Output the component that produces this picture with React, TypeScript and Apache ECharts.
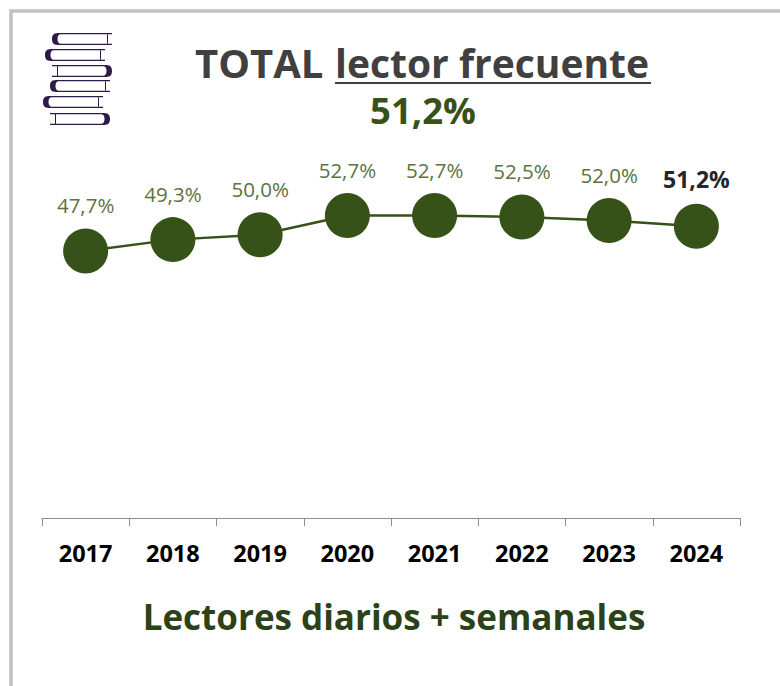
import React, { useEffect, useRef } from "react";
import * as echarts from "echarts";

const years = ["2017", "2018", "2019", "2020", "2021", "2022", "2023", "2024"];
const values = [47.7, 49.3, 50.0, 52.7, 52.7, 52.5, 52.0, 51.2];
const titleLead = "TOTAL";
const titleRest = "lector frecuente";
const headline = "51,2%";
const footer = "Lectores diarios + semanales";
const FONT = '"Open Sans", sans-serif';
const fmt = (v: number) => v.toFixed(1).replace(".", ",") + "%";

const book = (x: number, y: number, right: boolean) => {
  const w = 60, h = 12, t = 1.3, s = 5.5;
  if (!right) {
    return `M${x + w} ${y}H${x + 6}C${x + 1} ${y} ${x} ${y + 3} ${x} ${y + h / 2}C${x} ${y + h - 3} ${x + 1} ${y + h} ${x + 6} ${y + h}H${x + w}V${y + h - t}H${x + 8}C${x + 6} ${y + h - 2} ${x + s} ${y + h - 4} ${x + s} ${y + h / 2}C${x + s} ${y + 4} ${x + 6} ${y + 2} ${x + 8} ${y + t}H${x + w}Z` +
      `M${x + w - 5} ${y + 1}h1v${h - 2}h-1Z`;
  }
  return `M${x} ${y}H${x + w - 6}C${x + w - 1} ${y} ${x + w} ${y + 3} ${x + w} ${y + h / 2}C${x + w} ${y + h - 3} ${x + w - 1} ${y + h} ${x + w - 6} ${y + h}H${x}V${y + h - t}H${x + w - 8}C${x + w - 6} ${y + h - 2} ${x + w - s} ${y + h - 4} ${x + w - s} ${y + h / 2}C${x + w - s} ${y + 4} ${x + w - 6} ${y + 2} ${x + w - 8} ${y + t}H${x}Z` +
    `M${x + 5} ${y + 1}h1v${h - 2}h-1Z`;
};
const booksPath = [
  book(52, 33, false),
  book(45, 49, false),
  book(52, 65, true),
  book(50, 80, false),
  book(43, 96, false),
  book(50, 113, true),
].join("");
echarts.graphic.registerShape("booksIconPath", echarts.graphic.extendPath(booksPath, {}) as any);

export default function App() {
  const ref = useRef<HTMLDivElement>(null);
  useEffect(() => {
    const chart = echarts.init(ref.current!, undefined, { renderer: "svg" });
    chart.setOption({
      animation: false,
      backgroundColor: "#ffffff",
      grid: { left: 42, right: 40, top: 93, bottom: 168 },
      xAxis: {
        type: "category",
        data: years,
        boundaryGap: true,
        axisLine: { lineStyle: { color: "#8C8C8C", width: 1 } },
        axisTick: { show: true, length: 8, alignWithLabel: false, lineStyle: { color: "#8C8C8C" } },
        axisLabel: { color: "#000000", fontFamily: FONT, fontWeight: "bold", fontSize: 23.5, margin: 23 },
      },
      yAxis: { type: "value", min: 10, max: 70, show: false, splitLine: { show: false } },
      series: [
        {
          type: "line",
          data: values.map((v, i) =>
            i === values.length - 1
              ? { value: v, label: { color: "#262626", fontWeight: "bold", fontSize: 23 } }
              : v
          ),
          symbol: "circle",
          symbolSize: 45,
          showAllSymbol: true,
          lineStyle: { color: "#375218", width: 2.5 },
          itemStyle: { color: "#375218" },
          label: {
            show: true,
            position: "top",
            distance: 13,
            color: "#5C7242",
            fontFamily: FONT,
            fontSize: 20.5,
            formatter: (p: any) => fmt(p.value),
          },
        },
      ],
      graphic: [
        { type: "rect", silent: true, z: -1, shape: { x: 11, y: 11, width: 800, height: 720 }, style: { fill: "none", stroke: "#BFC2C5", lineWidth: 3.5 } },
        { type: "booksIconPath", silent: true, x: 0, y: 0, style: { fill: "#2E1A47" } },
        { type: "text", x: 195, y: 62, style: { text: titleLead, font: `bold 40px ${FONT}`, fill: "#404040", textVerticalAlign: "middle" } },
        { type: "text", x: 335, y: 62, style: { text: titleRest, font: `bold 39px ${FONT}`, fill: "#404040", textVerticalAlign: "middle" } },
        { type: "line", shape: { x1: 335, y1: 83, x2: 651, y2: 83 }, style: { stroke: "#404040", lineWidth: 2 } },
        { type: "text", x: 423, y: 110, style: { text: headline, font: `bold 36.5px ${FONT}`, fill: "#375218", textAlign: "center", textVerticalAlign: "middle" } },
        { type: "text", x: 394, y: 616, style: { text: footer, font: `bold 35px ${FONT}`, fill: "#2B4218", textAlign: "center", textVerticalAlign: "middle" } },
      ],
    });
    return () => chart.dispose();
  }, []);
  return <div ref={ref} style={{ position: "absolute", left: 0, top: 0, width: 780, height: 686 }} />;
}
